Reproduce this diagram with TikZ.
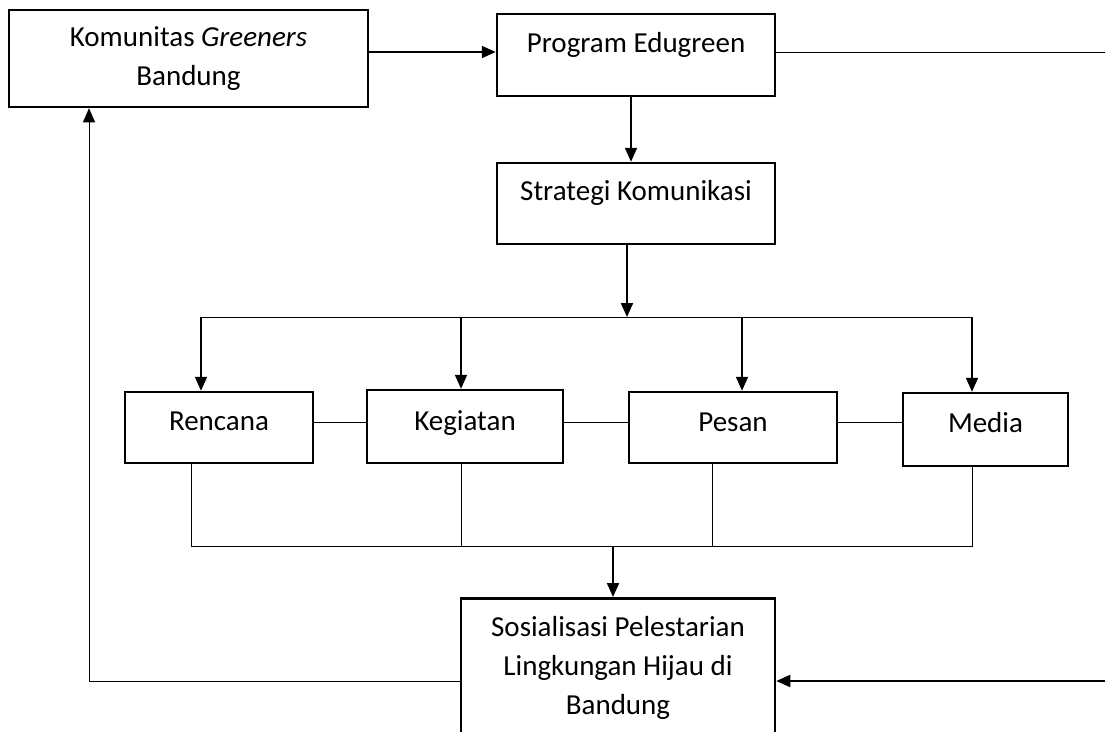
\documentclass[tikz,border=0pt]{standalone}
\usepackage{fontspec}
\setmainfont{Carlito}
\usetikzlibrary{arrows.meta}

\begin{document}
\begin{tikzpicture}[x=1pt,y=-1pt]
		\tikzset{kotak/.style = {draw,line width=2.5pt,inner sep=0pt,font=\fontsize{29}{39}\selectfont}}
		\tikzset{panah/.style = {-{Triangle[length=14pt,width=12pt]},line width=2pt}}
		\tikzset{garis/.style = {line width=1pt}}
		\useasboundingbox (0,0) rectangle (1105,731);
		% kotak-kotak
		\node[kotak,minimum width=359pt,minimum height=97pt,align=center] (kom) at (188.5,58.5) {Komunitas \textit{Greeners}\\Bandung};
		\node[kotak,anchor=base,minimum width=278pt,text height=38pt,text depth=44pt] (prog) at (636,52) {Program Edugreen};
		\node[kotak,anchor=base,minimum width=278pt,text height=37pt,text depth=44pt] (strat) at (636,200) {Strategi Komunikasi};
		\node[kotak,anchor=base,minimum width=188pt,text height=38pt,text depth=33pt] (ren) at (219,430) {Rencana};
		\node[kotak,anchor=base,minimum width=196pt,text height=40pt,text depth=33pt] (keg) at (465,430) {Kegiatan};
		\node[kotak,anchor=base,minimum width=208pt,text height=39pt,text depth=32pt] (pesan) at (733,431) {Pesan};
		\node[kotak,anchor=base,minimum width=165pt,text height=39pt,text depth=34pt] (media) at (985.5,432) {Media};
		\node[kotak,anchor=north,minimum width=314pt,minimum height=140pt,align=center] (sos) at (618,597) {Sosialisasi Pelestarian\\Lingkungan Hijau di\\Bandung};
		% titik bantu
		\coordinate (bagi) at (627,317);
		\coordinate (t1) at (201,317);
		\coordinate (t2) at (461,317);
		\coordinate (t3) at (742,317);
		\coordinate (t4) at (972,317);
		\coordinate (bar) at (0,422);
		\coordinate (b1) at (191,546);
		\coordinate (b2) at (461,546);
		\coordinate (b3) at (712,546);
		\coordinate (b4) at (972,546);
		\coordinate (kumpul) at (613,546);
		\coordinate (kiri) at (89,681);
		\coordinate (kanan) at (1120,681);
		\coordinate (kananatas) at (1120,52);
		% alur atas
		\path[draw,panah] (kom.east |- prog.base) -- (prog.base west);
		\path[draw,panah] ([xshift=-5pt]prog.south) -- ([xshift=-5pt]prog.south |- strat.north);
		\path[draw,panah] (bagi |- strat.south) -- (bagi);
		\path[draw,garis] (t1) -- (t4);
		\path[draw,panah] (t1) -- (t1 |- ren.north);
		\path[draw,panah] (t2) -- (t2 |- keg.north);
		\path[draw,panah] (t3) -- (t3 |- pesan.north);
		\path[draw,panah] (t4) -- (t4 |- media.north);
		% penghubung antar kotak
		\path[draw,garis] (ren.east |- bar) -- (keg.west |- bar);
		\path[draw,garis] (keg.east |- bar) -- (pesan.west |- bar);
		\path[draw,garis] (pesan.east |- bar) -- (media.west |- bar);
		% alur bawah
		\path[draw,garis] (b1 |- ren.south) -- (b1) -- (b4) -- (b4 |- media.south);
		\path[draw,garis] (b2 |- keg.south) -- (b2);
		\path[draw,garis] (b3 |- pesan.south) -- (b3);
		\path[draw,panah] (kumpul) -- (kumpul |- sos.north);
		% umpan balik
		\path[draw,garis,-{Triangle[length=14pt,width=12pt]}] (sos.west |- kiri) -- (kiri) -- (kiri |- kom.south);
		\path[draw,garis] (prog.base east) -- (kananatas) -- (kanan);
		\path[draw,panah] (kanan) -- (sos.east |- kanan);
	\end{tikzpicture}
\end{document}
